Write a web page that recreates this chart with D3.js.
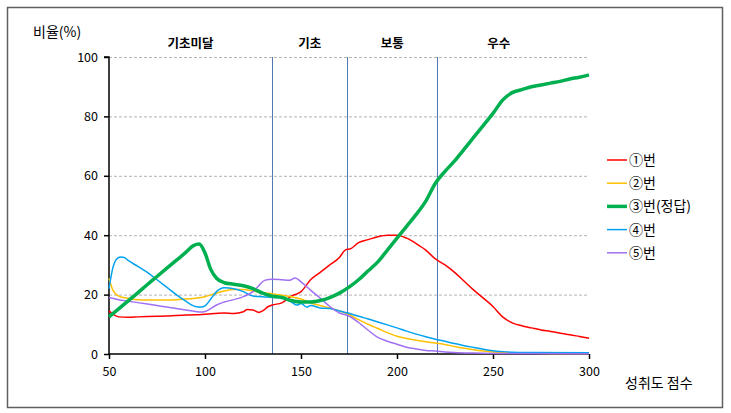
<!DOCTYPE html>
<html><head><meta charset="utf-8">
<script src="https://cdn.jsdelivr.net/npm/d3@7"></script>
<style>
html,body{margin:0;padding:0;background:#fff;}
svg{display:block;}
text{font-family:"Noto Sans CJK KR","Noto Sans",sans-serif;fill:#000;}
</style></head>
<body>
<svg id="chart" width="731" height="413"></svg>
<script>
// ---- data ----
const xTicks = [50, 100, 150, 200, 250, 300];
const yTicks = [0, 20, 40, 60, 80, 100];
const cutScores = [135, 174, 221];
const levelNames = ["기초미달", "기초", "보통", "우수"];
const levelCenters = [92.5, 154.5, 197.5, 253];
const seriesNames = ["①번", "②번", "③번(정답)", "④번", "⑤번"];
const seriesColors = ["#ff0000", "#ffc000", "#00b050", "#00a2f0", "#a070f2"];

const option1 = [[50,14.5],[53,13],[55,12.5],[60,12.4],[65,12.5],[70,12.6],[75,12.7],[80,12.8],[85,13],[90,13.1],[95,13.2],[100,13.4],[105,13.6],[110,13.8],[115,13.6],[120,14.2],[122,15],[125,14.8],[128,14],[130,14.5],[133,16],[135,16.5],[140,17.2],[145,19.5],[150,21],[155,25],[160,27.5],[165,30],[170,32.5],[173,35],[176,35.5],[180,37.5],[185,38.5],[190,39.5],[195,40],[200,40],[205,39],[210,37.2],[215,35],[220,32],[225,30],[230,27.5],[235,24.5],[240,21.5],[245,18.8],[250,16],[255,12.5],[260,10.5],[265,9.5],[270,8.8],[275,8.1],[280,7.6],[285,7],[290,6.5],[295,5.9],[300,5.3]];
const option2 = [[50,25.5],[52,21.5],[55,19.5],[60,18.7],[65,18.3],[70,18.2],[75,18.2],[80,18.2],[85,18.3],[90,18.5],[95,18.8],[100,19.3],[105,20.3],[110,21.2],[115,21.7],[120,21.7],[125,21.2],[130,20.6],[135,20.3],[140,19.8],[145,19.3],[150,18.5],[155,17.2],[160,16.3],[165,15.5],[170,14.5],[175,13.3],[180,11.6],[185,10],[190,8.6],[195,7.2],[200,6],[205,5.2],[210,4.6],[215,4.1],[220,3.7],[225,3.2],[230,2.5],[235,1.9],[240,1.4],[245,1],[250,0.7],[255,0.5],[260,0.4],[270,0.3],[285,0.2],[300,0.2]];
const option3 = [[50,12.5],[55,15.2],[60,17.9],[65,20.6],[70,23.4],[75,26.1],[80,28.8],[85,31.5],[90,34.2],[94,36.5],[97,37],[100,34],[103,28.5],[106,25.5],[110,24],[115,23.5],[120,23],[125,22],[130,20.5],[135,19.5],[140,19],[145,18],[150,17.5],[155,17.5],[160,18],[165,19],[170,20.5],[175,22.5],[180,25],[185,28],[190,31],[195,35],[200,39],[205,43],[210,47],[215,51.5],[220,57.5],[225,61.5],[230,65],[235,69],[240,73],[245,77],[250,81],[255,85.5],[260,88],[265,89],[270,90],[275,90.6],[280,91.2],[285,91.8],[290,92.6],[295,93.2],[300,94]];
const option4 = [[50,22],[52,29],[54,32],[56,32.7],[58,32.5],[60,31.5],[65,29.5],[70,27.5],[75,25],[80,22.5],[85,20],[90,17.8],[95,16],[98,15.8],[100,16.2],[103,18.5],[106,21],[110,22.3],[115,22],[120,21],[125,19.5],[130,19.3],[135,19],[140,19],[145,17.5],[148,16.5],[150,17],[153,15.8],[155,16.3],[160,15.5],[165,15.3],[170,14.5],[175,13.7],[180,12.7],[185,11.8],[190,10.8],[195,9.8],[200,8.8],[205,7.7],[210,6.7],[215,5.8],[220,5],[225,4.3],[230,3.5],[235,2.8],[240,2.2],[245,1.6],[250,1.1],[255,0.8],[260,0.6],[270,0.5],[300,0.4]];
const option5 = [[50,19],[55,18.3],[60,17.8],[65,17.3],[70,16.8],[75,16.3],[80,15.8],[85,15.3],[90,14.8],[95,14.3],[98,14.1],[100,14.3],[103,15.3],[106,16.5],[110,17.5],[115,18.3],[120,19.3],[125,21],[128,23],[131,24.8],[135,25.2],[140,25],[144,24.8],[147,25.6],[150,24.3],[155,21.5],[160,18.8],[165,16],[170,13.8],[175,12.8],[180,10.6],[185,8],[190,5.6],[195,4.3],[200,3.3],[205,2.3],[210,1.7],[215,1.2],[220,1],[225,0.7],[230,0.5],[240,0.3],[250,0.2],[300,0.1]];
const allSeries = [option1, option2, option3, option4, option5];
const seriesWidths = [1.5, 1.5, 3.5, 1.5, 1.5];

// ---- drawing ----
const svg = d3.select("#chart");
const L = 109, R = 589, T = 57, B = 354;
const x = d3.scaleLinear().domain([50, 300]).range([L, R]);
const y = d3.scaleLinear().domain([0, 100]).range([B, T]);

svg.append("rect").attr("x", 7.5).attr("y", 7.5).attr("width", 715).attr("height", 400)
  .attr("fill", "#fff").attr("stroke", "#5f5f5f").attr("stroke-width", 1.5);

// gridlines
svg.append("g").selectAll("line").data(yTicks.filter(d => d > 0)).join("line")
  .attr("x1", L).attr("x2", R).attr("y1", d => y(d) + 0.5).attr("y2", d => y(d) + 0.5)
  .attr("stroke", "#b3b3b3").attr("stroke-width", 1).attr("stroke-dasharray", "3,2");

// cut lines
svg.append("g").selectAll("line").data(cutScores).join("line")
  .attr("x1", d => Math.round(x(d)) + 0.5).attr("x2", d => Math.round(x(d)) + 0.5)
  .attr("y1", y(100)).attr("y2", y(0))
  .attr("stroke", "#4f79b0").attr("stroke-width", 1);

// axes
const yAxis = d3.axisLeft(y).tickValues(yTicks).tickSize(5).tickPadding(6).tickFormat(d3.format("d"));
const gy = svg.append("g").attr("transform", `translate(${L},0)`).call(yAxis);
const xAxis = d3.axisBottom(x).tickValues(xTicks).tickSize(5).tickPadding(8).tickFormat(d3.format("d"));
const gx = svg.append("g").attr("transform", `translate(0,${B})`).call(xAxis);
[gy, gx].forEach(g => {
  g.select(".domain").attr("stroke", "#000").attr("stroke-width", 1.5);
  g.selectAll(".tick line").attr("stroke", "#000").attr("stroke-width", 1.5);
  g.selectAll(".tick text").attr("font-size", 12.5).attr("font-family", "'Noto Sans CJK KR',sans-serif").attr("fill", "#000");
});
gy.select(".domain").attr("d", `M-5,${T}H0V${B}`);
gx.select(".domain").attr("d", `M${L},0H${R}`);

// lines
const line = d3.line().x(d => x(d[0])).y(d => y(d[1])).curve(d3.curveMonotoneX);
const order = [0, 1, 3, 4, 2];
svg.append("g").selectAll("path").data(order).join("path")
  .attr("d", i => line(allSeries[i]))
  .attr("fill", "none")
  .attr("stroke", i => seriesColors[i])
  .attr("stroke-width", i => seriesWidths[i])
  .attr("stroke-linejoin", "round");

// level labels
svg.append("g").selectAll("text").data(levelNames).join("text")
  .attr("x", (d, i) => x(levelCenters[i])).attr("y", 48)
  .attr("text-anchor", "middle").attr("font-size", 12.5).attr("font-weight", "bold")
  .text(d => d);

// axis titles
svg.append("text").attr("x", 33).attr("y", 37).attr("font-size", 14).text("비율(%)");
svg.append("text").attr("x", 625).attr("y", 388).attr("font-size", 14).text("성취도 점수");

// legend
const lg = svg.append("g").selectAll("g").data(seriesNames).join("g")
  .attr("transform", (d, i) => `translate(607,${160 + i * 23.2})`);
lg.append("line").attr("x1", 0).attr("x2", 20).attr("y1", 0).attr("y2", 0)
  .attr("stroke", (d, i) => seriesColors[i]).attr("stroke-width", (d, i) => seriesWidths[i]);
lg.append("text").attr("x", 22).attr("y", 5).attr("font-size", 14).text(d => d);
</script>
</body></html>
